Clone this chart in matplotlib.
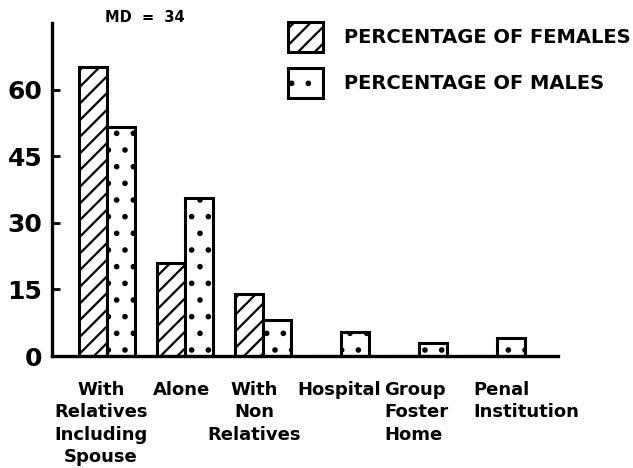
import numpy as np
import matplotlib
matplotlib.use('Agg')
import matplotlib.pyplot as plt

categories = ['With\nRelatives\nIncluding\nSpouse', 'Alone', 'With\nNon\nRelatives',
              'Hospital', 'Group\nFoster\nHome', 'Penal\nInstitution']
females = [65, 21, 14, 0, 0, 0]
males = [51.5, 35.5, 8, 5.5, 3, 4]
yticks = [0, 15, 30, 45, 60]
legend_labels = ['PERCENTAGE OF FEMALES', 'PERCENTAGE OF MALES']

# label placement tweaks (x shift in group units, alignment)
label_dx = [-0.08, -0.04, -0.11, -0.03, -0.45, -0.31]
label_align = ['center', 'center', 'center', 'center', 'left', 'left']

plt.rcParams['hatch.linewidth'] = 1.6
plt.rcParams['font.family'] = 'DejaVu Sans'

fig = plt.figure(figsize=(6.33, 4.68), dpi=100)
ax = fig.add_axes([52 / 633, 1 - 356 / 468, 506 / 633, 333 / 468])

x = np.arange(len(categories))
w = 0.36
bf = ax.bar(x - w / 2, females, w, facecolor='white', edgecolor='black',
            linewidth=2.2, hatch='//', label=legend_labels[0])
bm = ax.bar(x + w / 2, males, w, facecolor='white', edgecolor='black',
            linewidth=2.2, hatch='.', label=legend_labels[1])

ax.set_xlim(-0.705, 5.78)
ax.set_ylim(0, 75)
for s in ['top', 'right']:
    ax.spines[s].set_visible(False)
for s in ['left', 'bottom']:
    ax.spines[s].set_linewidth(2.4)

ax.set_yticks(yticks)
ax.set_yticklabels([str(v) for v in yticks], fontsize=18, fontweight='bold')
ax.tick_params(axis='y', direction='in', length=6, width=2, pad=7)
ax.set_xticks([])

for i, lab in enumerate(categories):
    ha = label_align[i]
    ax.text(i + label_dx[i], -0.075, lab, transform=ax.get_xaxis_transform(),
            ha='center' if ha == 'center' else 'left', va='top',
            multialignment=ha, fontsize=13, fontweight='bold', linespacing=1.31)

fig.text(145 / 633, 1 - 17 / 468, 'MD  =  34', ha='center', va='center',
         fontsize=10.5, fontweight='bold')

leg = ax.legend(loc='upper left', bbox_to_anchor=(288 / 633, 1 - 22 / 468),
                bbox_transform=fig.transFigure, frameon=False, borderpad=0,
                borderaxespad=0, handlelength=1.8, handleheight=2.0,
                labelspacing=0.8, handletextpad=1.1,
                prop={'size': 14, 'weight': 'bold'})

fig.savefig('out.png', dpi=100)
